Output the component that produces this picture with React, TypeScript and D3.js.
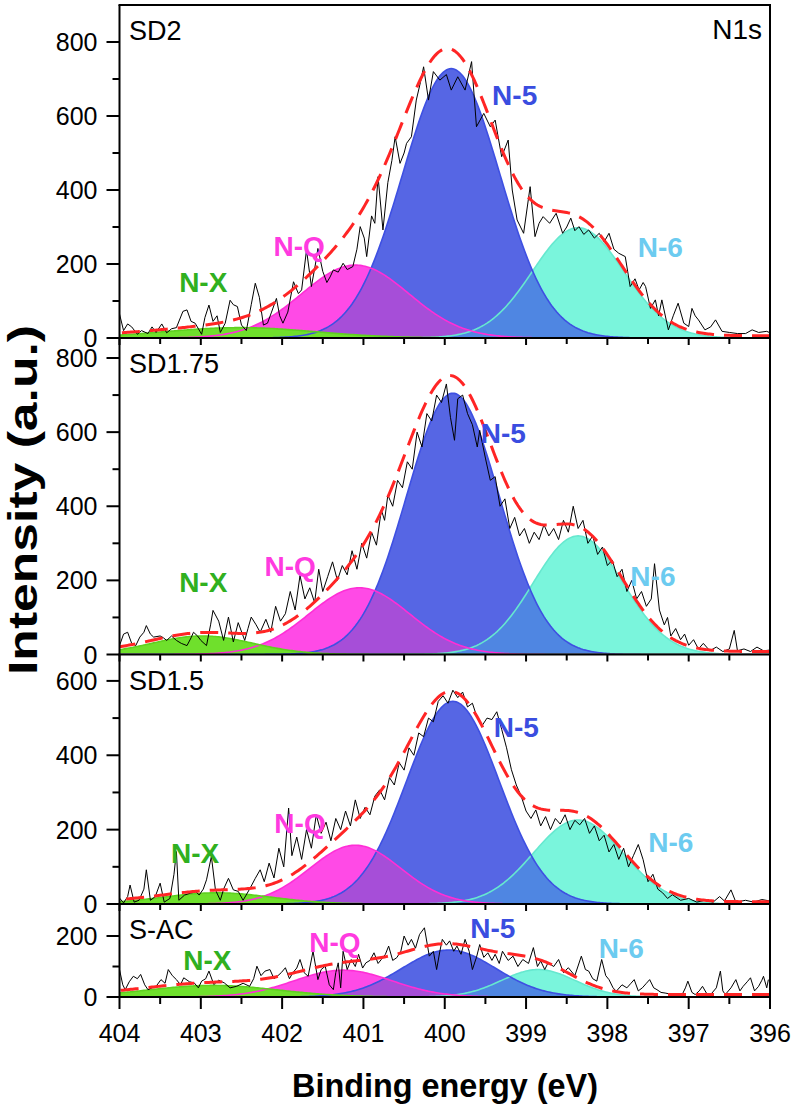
import React from "react";
import * as d3 from "d3";

// ---------------- DATA ----------------
const panelNames = ["SD2", "SD1.75", "SD1.5", "S-AC"];
const panelYMax = [900, 854, 671, 305];
const panelYMajor = [[0, 200, 400, 600, 800], [0, 200, 400, 600, 800], [0, 200, 400, 600], [0, 200]];
const panelYMinor = [[100, 300, 500, 700], [100, 300, 500, 700], [100, 300, 500], [100]];
const xMajor = [404, 403, 402, 401, 400, 399, 398, 397, 396];
const xMinor = [403.5, 402.5, 401.5, 400.5, 399.5, 398.5, 397.5, 396.5];
const componentNames = ["N-X", "N-Q", "N-5", "N-6"];

// fitted components: [centre (eV), height (a.u.), sigma (eV)]
const peaksSD2 = [[402.52, 28, 0.93], [401.1, 197, 0.66], [399.92, 728, 0.6], [398.36, 298, 0.56]];
const peaksSD175 = [[402.98, 50, 0.62], [401.05, 180, 0.62], [399.9, 705, 0.57], [398.36, 320, 0.55]];
const peaksSD15 = [[402.8, 30, 0.67], [401.1, 158, 0.56], [399.9, 545, 0.57], [398.36, 226, 0.55]];
const peaksSAC = [[402.85, 38, 0.8], [401.25, 88, 0.6], [399.95, 154, 0.58], [398.85, 90, 0.45]];
const fitBackground = [6, 8, 6, 8];

// measured spectra: [binding energy (eV), intensity]
const rawSD2 = [
  [404.0, 65], [403.95, 20], [403.9, 38], [403.85, 30], [403.78, 10], [403.73, 20], [403.65, 12], [403.6, 30], [403.55, 15],
  [403.48, 38], [403.42, 14], [403.36, 25], [403.3, 28], [403.22, 72], [403.17, 76], [403.12, 45], [403.07, 40], [402.99, 10],
  [402.95, 55], [402.9, 89], [402.85, 45], [402.8, 60], [402.76, 15], [402.7, 40], [402.64, 102], [402.6, 90], [402.55, 85],
  [402.5, 35], [402.44, 20], [402.38, 90], [402.33, 148], [402.28, 110], [402.23, 35], [402.18, 40], [402.13, 70], [402.07, 107],
  [402.03, 60], [401.99, 40], [401.93, 70], [401.86, 152], [401.8, 120], [401.76, 130], [401.7, 238], [401.64, 139], [401.59, 200],
  [401.56, 242], [401.5, 180], [401.45, 150], [401.41, 165], [401.37, 184], [401.31, 178], [401.25, 202], [401.2, 185], [401.13, 193],
  [401.08, 240], [401.04, 301], [400.99, 270], [400.96, 220], [400.9, 330], [400.86, 310], [400.82, 436], [400.76, 292], [400.7, 420],
  [400.65, 480], [400.61, 544], [400.55, 472], [400.5, 500], [400.47, 526], [400.41, 544], [400.35, 643], [400.3, 690], [400.26, 733],
  [400.2, 643], [400.14, 720], [400.06, 697], [399.98, 712], [399.92, 670], [399.84, 706], [399.75, 670], [399.67, 747], [399.61, 571],
  [399.52, 607], [399.44, 571], [399.38, 589], [399.3, 490], [399.22, 535], [399.17, 400], [399.11, 319], [399.03, 283], [398.95, 409],
  [398.89, 274], [398.84, 310], [398.79, 328], [398.71, 310], [398.63, 337], [398.55, 283], [398.5, 300], [398.45, 324], [398.4, 290],
  [398.35, 301], [398.29, 280], [398.23, 292], [398.16, 270], [398.1, 283], [398.04, 260], [397.98, 283], [397.92, 240], [397.86, 229],
  [397.78, 220], [397.72, 139], [397.66, 160], [397.61, 130], [397.56, 150], [397.53, 139], [397.47, 80], [397.41, 103], [397.37, 60],
  [397.33, 103], [397.25, 22], [397.19, 60], [397.13, 94], [397.06, 40], [397.0, 31], [396.96, 80], [396.92, 60], [396.88, 49],
  [396.8, 22], [396.73, 30], [396.67, 49], [396.59, 18], [396.5, 15], [396.4, 12], [396.3, 12], [396.22, 22], [396.14, 15],
  [396.04, 18], [396.0, 14],
];

const rawSD175 = [
  [404.0, 24], [403.95, 55], [403.9, 60], [403.85, 30], [403.8, 24], [403.75, 47], [403.7, 60], [403.67, 78], [403.62, 55],
  [403.58, 47], [403.5, 50], [403.46, 45], [403.42, 38], [403.36, 50], [403.3, 38], [403.24, 30], [403.17, 24], [403.12, 45],
  [403.09, 60], [403.04, 50], [403.0, 38], [402.93, 24], [402.88, 80], [402.85, 119], [402.78, 90], [402.72, 38], [402.66, 101],
  [402.6, 34], [402.54, 86], [402.46, 38], [402.42, 70], [402.38, 101], [402.32, 80], [402.27, 60], [402.2, 95], [402.14, 60],
  [402.08, 130], [402.02, 90], [401.96, 110], [401.9, 170], [401.84, 120], [401.78, 213], [401.72, 150], [401.66, 180], [401.6, 140],
  [401.55, 230], [401.5, 170], [401.44, 210], [401.38, 250], [401.32, 200], [401.26, 240], [401.2, 215], [401.14, 280], [401.08, 230],
  [401.02, 300], [400.96, 260], [400.9, 330], [400.84, 295], [400.78, 390], [400.74, 362], [400.7, 430], [400.64, 400], [400.58, 470],
  [400.52, 450], [400.46, 520], [400.4, 500], [400.34, 600], [400.28, 560], [400.22, 650], [400.16, 630], [400.1, 700], [400.04, 680],
  [399.98, 730], [399.93, 640], [399.88, 578], [399.84, 690], [399.78, 700], [399.72, 650], [399.66, 620], [399.6, 560], [399.57, 605],
  [399.5, 530], [399.44, 470], [399.38, 480], [399.32, 400], [399.26, 420], [399.2, 340], [399.14, 370], [399.08, 320], [399.02, 340],
  [398.96, 300], [398.9, 330], [398.84, 310], [398.78, 350], [398.72, 320], [398.66, 340], [398.6, 310], [398.54, 362], [398.48, 330],
  [398.42, 400], [398.36, 340], [398.3, 362], [398.24, 300], [398.18, 320], [398.12, 270], [398.06, 290], [398.0, 240], [397.94, 255],
  [397.88, 210], [397.82, 230], [397.76, 170], [397.7, 200], [397.64, 150], [397.58, 170], [397.52, 130], [397.46, 150], [397.42, 245],
  [397.36, 120], [397.3, 80], [397.26, 100], [397.22, 50], [397.16, 70], [397.1, 40], [397.05, 55], [397.0, 25], [396.94, 40],
  [396.88, 15], [396.82, 30], [396.74, 10], [396.66, 20], [396.58, 8], [396.5, 15], [396.44, 65], [396.4, 10], [396.32, 15],
  [396.24, 8], [396.16, 20], [396.08, 10], [396.0, 12],
];

const rawSD15 = [
  [404.0, 16], [403.95, 3], [403.9, 20], [403.87, 51], [403.82, 5], [403.76, 10], [403.7, 40], [403.67, 92], [403.62, 10],
  [403.56, 20], [403.5, 56], [403.45, 5], [403.38, 15], [403.33, 80], [403.3, 141], [403.27, 10], [403.2, 24], [403.13, 29],
  [403.06, 33], [403.02, 24], [402.97, 40], [402.93, 65], [402.87, 128], [402.82, 38], [402.76, 10], [402.72, 40], [402.66, 69],
  [402.6, 38], [402.54, 34], [402.48, 10], [402.4, 40], [402.33, 69], [402.27, 92], [402.22, 60], [402.16, 110], [402.1, 70],
  [402.04, 150], [401.98, 100], [401.92, 258], [401.88, 130], [401.82, 180], [401.76, 120], [401.7, 200], [401.64, 150], [401.58, 240],
  [401.52, 190], [401.46, 220], [401.4, 170], [401.34, 230], [401.28, 200], [401.22, 250], [401.16, 210], [401.1, 280], [401.04, 230],
  [400.98, 260], [400.92, 240], [400.86, 290], [400.8, 307], [400.74, 280], [400.68, 340], [400.62, 320], [400.56, 380], [400.5, 360],
  [400.44, 420], [400.38, 400], [400.32, 460], [400.26, 450], [400.2, 500], [400.14, 490], [400.08, 545], [400.02, 560], [399.96, 540],
  [399.9, 575], [399.84, 555], [399.78, 570], [399.72, 530], [399.66, 540], [399.6, 500], [399.54, 480], [399.48, 500], [399.42, 496],
  [399.36, 517], [399.3, 470], [399.24, 420], [399.18, 361], [399.12, 320], [399.06, 290], [399.0, 250], [398.94, 230], [398.88, 253],
  [398.82, 210], [398.76, 235], [398.7, 200], [398.64, 230], [398.58, 215], [398.52, 240], [398.46, 200], [398.4, 225], [398.34, 213],
  [398.28, 230], [398.22, 190], [398.16, 210], [398.1, 170], [398.04, 185], [397.98, 140], [397.92, 160], [397.86, 120], [397.8, 150],
  [397.74, 100], [397.68, 130], [397.62, 160], [397.56, 119], [397.5, 60], [397.44, 80], [397.38, 40], [397.32, 30], [397.26, 15],
  [397.2, 25], [397.1, 10], [397.0, 15], [396.9, 5], [396.8, 10], [396.7, 5], [396.62, 20], [396.56, 8], [396.48, 38],
  [396.42, 5], [396.3, 10], [396.2, 5], [396.1, 12], [396.0, 8],
];

const rawSAC = [
  [404.0, 90], [403.96, 40], [403.93, 24], [403.88, 50], [403.83, 68], [403.78, 60], [403.74, 74], [403.69, 40], [403.65, 24],
  [403.6, 30], [403.55, 35], [403.49, 57], [403.44, 45], [403.4, 90], [403.35, 70], [403.3, 57], [403.25, 40], [403.21, 63],
  [403.14, 50], [403.08, 46], [403.03, 30], [402.99, 52], [402.94, 60], [402.9, 85], [402.84, 41], [402.78, 55], [402.71, 46],
  [402.64, 30], [402.56, 35], [402.48, 45], [402.4, 35], [402.35, 60], [402.31, 101], [402.26, 70], [402.21, 85], [402.15, 90],
  [402.1, 60], [402.06, 68], [402.01, 80], [401.96, 96], [401.91, 60], [401.87, 79], [401.82, 95], [401.78, 123], [401.73, 80],
  [401.68, 68], [401.62, 150], [401.56, 57], [401.52, 90], [401.47, 101], [401.42, 40], [401.37, 24], [401.34, 80], [401.31, 112],
  [401.28, 30], [401.25, 150], [401.2, 90], [401.15, 123], [401.1, 100], [401.06, 140], [401.01, 95], [400.97, 112], [400.92, 120],
  [400.87, 145], [400.82, 110], [400.78, 123], [400.73, 140], [400.69, 167], [400.64, 120], [400.59, 129], [400.54, 150], [400.5, 200],
  [400.45, 170], [400.41, 189], [400.36, 160], [400.31, 205], [400.25, 227], [400.19, 134], [400.14, 150], [400.1, 90], [400.06, 150],
  [400.03, 189], [399.98, 170], [399.94, 184], [399.89, 150], [399.85, 167], [399.8, 140], [399.75, 189], [399.7, 150], [399.66, 90],
  [399.61, 130], [399.57, 172], [399.52, 130], [399.47, 145], [399.42, 120], [399.38, 140], [399.33, 110], [399.29, 150], [399.22, 120],
  [399.16, 134], [399.1, 100], [399.04, 123], [398.97, 110], [398.91, 162], [398.86, 100], [398.82, 118], [398.77, 90], [398.73, 112],
  [398.66, 100], [398.6, 123], [398.54, 80], [398.48, 96], [398.4, 70], [398.32, 134], [398.27, 90], [398.23, 85], [398.18, 60],
  [398.13, 52], [398.07, 123], [398.02, 70], [397.98, 57], [397.93, 30], [397.89, 19], [397.82, 40], [397.76, 30], [397.71, 45],
  [397.67, 57], [397.62, 20], [397.57, 30], [397.52, 45], [397.48, 57], [397.43, 30], [397.39, 24], [397.34, 15], [397.29, 13],
  [397.2, 8], [397.12, 10], [397.08, 8], [397.04, 30], [397.01, 52], [396.96, 15], [396.92, 8], [396.87, 20], [396.83, 35],
  [396.78, 12], [396.73, 8], [396.66, 30], [396.61, 85], [396.58, 20], [396.55, 8], [396.48, 30], [396.42, 57], [396.37, 20],
  [396.33, 35], [396.28, 50], [396.24, 63], [396.19, 20], [396.14, 35], [396.1, 55], [396.08, 68], [396.04, 30], [396.02, 57],
];

const panelPeaks = [peaksSD2, peaksSD175, peaksSD15, peaksSAC];
const panelRaw = [rawSD2, rawSD175, rawSD15, rawSAC];

// ---------------- LAYOUT / STYLE ----------------
const W = 795;
const H = 1110;
const PLOT_LEFT = 119.5;
const PLOT_RIGHT = 770;
const panelTop = [5, 338, 654.5, 904];
const panelBottom = [338, 654.5, 904, 997];
// label anchors (eV, intensity) for the component labels of each panel
const labelAnchors = [
  [[402.97, 124], [401.79, 222], [399.14, 630], [397.35, 219]],
  [[402.97, 168], [401.9, 211], [399.28, 570], [397.44, 184]],
  [[403.07, 110], [401.78, 191], [399.12, 450], [397.22, 140]],
  [[402.92, 89], [401.35, 148], [399.41, 193], [397.83, 128]],
];
const fillColors = ["#6fe02c", "#ff4ae6", "#5666e4", "#7af5dc"];
const lineColors = ["#5fd020", "#ff2ed6", "#3e50e2", "#66e8cf"];
const labelColors = ["#30b020", "#ff3ae0", "#3a4de0", "#6ccbf0"];
const overlapQ5 = "#a64ed8";
const overlap65 = "#4f86e2";
const FONT = "'Liberation Sans', Arial, Helvetica, sans-serif";

const xScale = d3.scaleLinear().domain([404, 396]).range([PLOT_LEFT, PLOT_RIGHT]);
const grid = d3.range(396, 404.0001, 0.02);

function gauss(p: number[], e: number) {
  return p[1] * Math.exp(-((e - p[0]) ** 2) / (2 * p[2] * p[2]));
}

function Panel({ idx }: { idx: number }) {
  const peaks = panelPeaks[idx];
  const raw = panelRaw[idx];
  const yScale = d3.scaleLinear().domain([0, panelYMax[idx]]).range([panelBottom[idx], panelTop[idx]]);
  const y0 = yScale(0);
  const clipId = `clip${idx}`;

  const areaOf = (f: (e: number) => number) =>
    d3.area<number>().x((e) => xScale(e)).y0(y0).y1((e) => yScale(f(e))).curve(d3.curveLinear)(grid) || "";
  const lineOf = (f: (e: number) => number) =>
    d3.line<number>().x((e) => xScale(e)).y((e) => yScale(f(e)))(grid) || "";

  const comp = (k: number) => (e: number) => gauss(peaks[k], e);
  const envelope = (e: number) => fitBackground[idx] + peaks.reduce((s, p) => s + gauss(p, e), 0);
  const rawPath = d3.line<number[]>().x((d) => xScale(d[0])).y((d) => yScale(d[1]))(raw) || "";

  const isBottom = idx === panelNames.length - 1;
  const tickMaj = isBottom ? 12 : 7;
  const tickMin = isBottom ? 7 : 6;

  return (
    <g>
      <defs>
        <clipPath id={clipId}>
          <rect x={PLOT_LEFT} y={panelTop[idx]} width={PLOT_RIGHT - PLOT_LEFT} height={panelBottom[idx] - panelTop[idx]} />
        </clipPath>
      </defs>
      <g clipPath={`url(#${clipId})`}>
        <path d={areaOf(comp(1))} fill={fillColors[1]} />
        <path d={areaOf(comp(3))} fill={fillColors[3]} />
        <path d={areaOf(comp(2))} fill={fillColors[2]} />
        <path d={areaOf((e) => Math.min(comp(1)(e), comp(2)(e)))} fill={overlapQ5} />
        <path d={areaOf((e) => Math.min(comp(3)(e), comp(2)(e)))} fill={overlap65} />
        <path d={areaOf(comp(0))} fill={fillColors[0]} />
        {[3, 2, 1, 0].map((k) => (
          <path key={k} d={lineOf(comp(k))} fill="none" stroke={lineColors[k]} strokeWidth={1.6} />
        ))}
        <path d={rawPath} fill="none" stroke="#000" strokeWidth={1} strokeLinejoin="round" />
        <path d={lineOf(envelope)} fill="none" stroke="#ff2525" strokeWidth={3} strokeDasharray="18 10" />
      </g>

      {/* frame */}
      <line x1={PLOT_LEFT} x2={PLOT_LEFT} y1={panelTop[idx]} y2={panelBottom[idx]} stroke="#000" strokeWidth={2} />
      <line x1={PLOT_RIGHT} x2={PLOT_RIGHT} y1={panelTop[idx]} y2={panelBottom[idx]} stroke="#000" strokeWidth={2} />
      <line x1={PLOT_LEFT - 1} x2={PLOT_RIGHT + 1} y1={panelBottom[idx]} y2={panelBottom[idx]} stroke="#000" strokeWidth={2} />
      {idx === 0 && (
        <line x1={PLOT_LEFT - 1} x2={PLOT_RIGHT + 1} y1={panelTop[idx]} y2={panelTop[idx]} stroke="#000" strokeWidth={2} />
      )}

      {/* y ticks */}
      {panelYMajor[idx].map((v) => (
        <g key={`M${v}`}>
          <line x1={PLOT_LEFT - 13} x2={PLOT_LEFT} y1={yScale(v)} y2={yScale(v)} stroke="#000" strokeWidth={2} />
          <text x={PLOT_LEFT - 22} y={yScale(v)} dy="0.36em" textAnchor="end" fontSize={25} fontFamily={FONT} fill="#000">
            {v}
          </text>
        </g>
      ))}
      {panelYMinor[idx].map((v) => (
        <line key={`m${v}`} x1={PLOT_LEFT - 7} x2={PLOT_LEFT} y1={yScale(v)} y2={yScale(v)} stroke="#000" strokeWidth={2} />
      ))}

      {/* x ticks */}
      {xMajor.map((v) => (
        <line key={`xM${v}`} x1={xScale(v)} x2={xScale(v)} y1={panelBottom[idx]} y2={panelBottom[idx] + tickMaj} stroke="#000" strokeWidth={2} />
      ))}
      {xMinor.map((v) => (
        <line key={`xm${v}`} x1={xScale(v)} x2={xScale(v)} y1={panelBottom[idx]} y2={panelBottom[idx] + tickMin} stroke="#000" strokeWidth={2} />
      ))}
      {isBottom &&
        xMajor.map((v) => (
          <text key={`xl${v}`} x={xScale(v)} y={1042} textAnchor="middle" fontSize={25} fontFamily={FONT} fill="#000">
            {v}
          </text>
        ))}

      {/* labels */}
      <text x={129} y={panelTop[idx] + 35} fontSize={27} fontFamily={FONT} fill="#000">
        {panelNames[idx]}
      </text>
      {componentNames.map((name, k) => (
        <text
          key={name}
          x={xScale(labelAnchors[idx][k][0])}
          y={yScale(labelAnchors[idx][k][1])}
          textAnchor="middle"
          fontSize={28}
          fontWeight="bold"
          fontFamily={FONT}
          fill={labelColors[k]}
        >
          {name}
        </text>
      ))}
      {idx === 0 && (
        <text x={762} y={39} textAnchor="end" fontSize={28} fontFamily={FONT} fill="#000">
          N1s
        </text>
      )}
    </g>
  );
}

export default function App() {
  return (
    <svg
      width={W}
      height={H}
      viewBox={`0 0 ${W} ${H}`}
      style={{ position: "absolute", left: 0, top: 0, background: "#fff", display: "block" }}
    >
      <rect x={0} y={0} width={W} height={H} fill="#fff" />
      {panelNames.map((_, i) => (
        <Panel key={i} idx={i} />
      ))}
      <text
        transform="translate(37,500) rotate(-90)"
        textAnchor="middle"
        fontSize={41}
        fontWeight="bold"
        fontFamily={FONT}
        textLength={350}
        lengthAdjust="spacingAndGlyphs"
        fill="#000"
      >
        Intensity (a.u.)
      </text>
      <text
        x={445}
        y={1097}
        textAnchor="middle"
        fontSize={34}
        fontWeight="bold"
        fontFamily={FONT}
        textLength={306}
        lengthAdjust="spacingAndGlyphs"
        fill="#000"
      >
        Binding energy (eV)
      </text>
    </svg>
  );
}
